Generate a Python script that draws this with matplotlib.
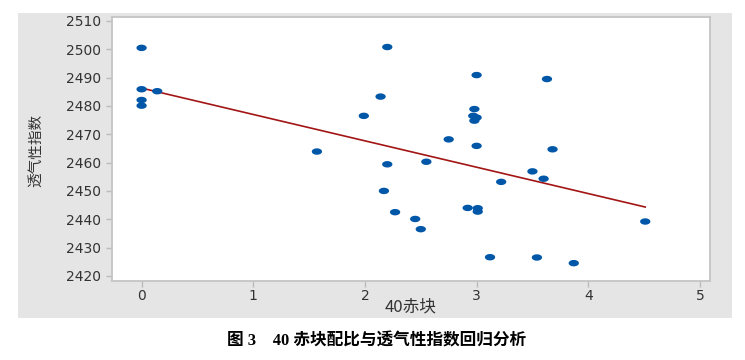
import numpy as np
import matplotlib
matplotlib.use("Agg")
import matplotlib.pyplot as plt
from matplotlib.path import Path

plt.rcParams['font.family'] = ['DejaVu Sans', 'Noto Sans CJK SC']

# Data
x_vals = [0, 0, 0, 0, 0.14, 1.57, 1.99, 2.14, 2.20, 2.20, 2.17, 2.27, 2.45, 2.50, 2.55,
          2.75, 2.92, 2.98, 3.00, 2.97, 3.00, 2.98, 3.00, 3.01, 3.01, 3.12, 3.22, 3.50,
          3.54, 3.60, 3.63, 3.68, 3.87, 4.51]
y_vals = [2500.5, 2485.9, 2482.1, 2480.1, 2485.2, 2463.9, 2476.5, 2483.3, 2500.8, 2459.4,
          2450.0, 2442.5, 2440.1, 2436.5, 2460.3, 2468.2, 2444.0, 2478.9, 2490.9, 2476.5,
          2475.9, 2474.8, 2465.9, 2443.9, 2442.7, 2426.6, 2453.2, 2456.9, 2426.5, 2454.3,
          2489.5, 2464.7, 2424.5, 2439.2]
fit_intercept = 2486.3
fit_slope = -9.31

x_ticks = [0, 1, 2, 3, 4, 5]
y_ticks = [2420, 2430, 2440, 2450, 2460, 2470, 2480, 2490, 2500, 2510]
x_label = "40赤块"
y_label = "透气性指数"
caption = "图 3　40 赤块配比与透气性指数回归分析"

fig = plt.figure(figsize=(7.45, 3.6), dpi=100)
fig.patch.set_facecolor('white')

# gray panel as background axes
bg = fig.add_axes([18/745, 1-318/360, (732-18)/745, (318-13)/360], zorder=0)
bg.set_facecolor('#E5E5E5')
bg.set_xticks([])
bg.set_yticks([])
for s in bg.spines.values():
    s.set_visible(False)

ax = fig.add_axes([112/745, 1-281/360, (710-112)/745, (281-17)/360], zorder=1)
ax.set_facecolor('white')

# elliptical marker
t = np.linspace(0, 2*np.pi, 40)
verts = np.column_stack([1.6*np.cos(t), np.sin(t)])
ell = Path(verts, closed=True)

ax.scatter(x_vals, y_vals, marker=ell, s=55, color='#0057A8', edgecolors='none', zorder=3)

xl = np.array([min(x_vals), max(x_vals)])
ax.plot(xl, fit_intercept + fit_slope*xl, color='#A31515', lw=1.2, zorder=2)

ax.set_xlim(-0.265, 5.09)
ax.set_ylim(2418.2, 2511.4)
ax.set_xticks(x_ticks)
ax.set_yticks(y_ticks)
for s in ax.spines.values():
    s.set_color('#C4C4C4')
    s.set_linewidth(1.3)
ax.tick_params(colors='#BBBBBB', labelcolor='#333333', labelsize=10, width=1)
ax.tick_params(axis='x', length=4, pad=1.5)
ax.tick_params(axis='y', length=4.5, pad=3.5)

fig.text(36/745, 1-150/360, y_label, rotation=90, ha='center', va='center',
         fontsize=10.5, color='#333333', family=['Noto Sans CJK SC'], zorder=5)
fig.text(411/745, 1-307/360, x_label, ha='center', va='center',
         fontsize=12, color='#333333', family=['Noto Sans CJK SC'], zorder=5)
fig.text(377/745, 1-341/360, caption, ha='center', va='center', fontsize=12,
         fontweight='bold', color='black', family=['Liberation Serif', 'Noto Sans CJK SC'])

fig.savefig('out.png', dpi=100)
